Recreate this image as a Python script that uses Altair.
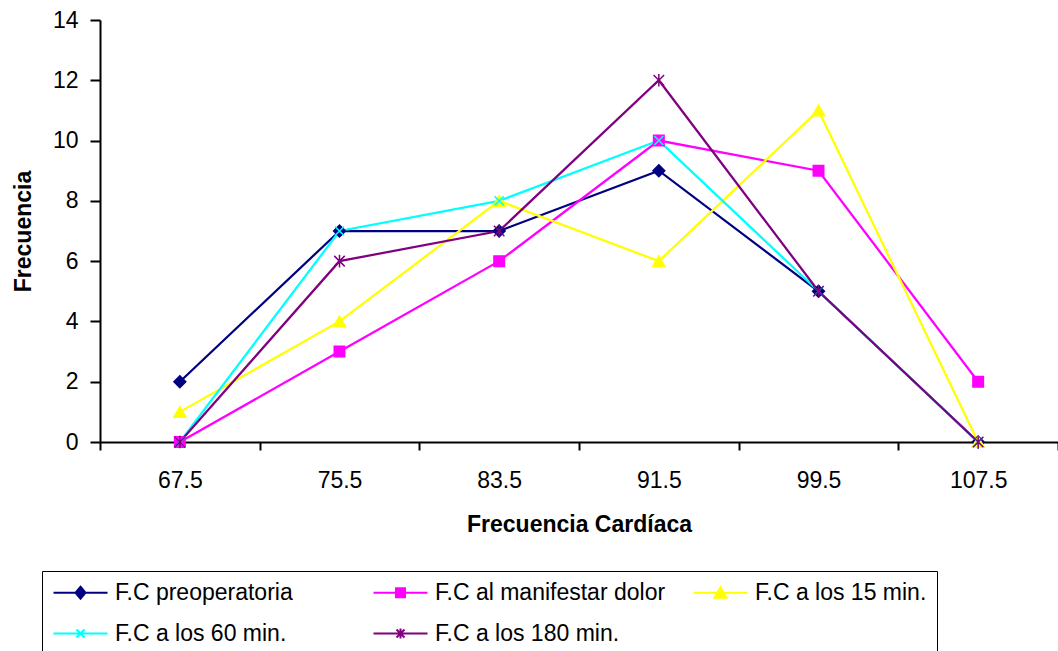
import altair as alt
import pandas as pd

# ---------------- data ----------------
categories = ["67.5", "75.5", "83.5", "91.5", "99.5", "107.5"]
series_names = [
    "F.C preoperatoria",
    "F.C al manifestar dolor",
    "F.C a los 15 min.",
    "F.C a los 60 min.",
    "F.C a los 180 min.",
]
preoperatoria = [2, 7, 7, 9, 5, 0]
manifestar_dolor = [0, 3, 6, 10, 9, 2]
a_los_15 = [1, 4, 8, 6, 11, 0]
a_los_60 = [0, 7, 8, 10, 5, 0]
a_los_180 = [0, 6, 7, 12, 5, 0]
y_ticks = [0, 2, 4, 6, 8, 10, 12, 14]

# ---------------- styles ----------------
colors = ["#000080", "#FF00FF", "#FFFF00", "#00FFFF", "#800080"]
marker_shapes = [
    "diamond",
    "square",
    "triangle-up",
    "M-1,-1L1,1M-1,1L1,-1",
    "M-1,-1L1,1M-1,1L1,-1M0,-1.2L0,1.2",
]
marker_sizes = [140, 110, 150, 81, 110]
legend_paths = [
    "M-1,0L4.4,0M1.7,-0.6L2.2,0L1.7,0.6L1.2,0Z",
    "M-1,0L4.4,0M1.25,-0.45L2.15,-0.45L2.15,0.45L1.25,0.45Z",
    "M-1,0L4.4,0M1.7,-0.55L2.3,0.5L1.1,0.5Z",
    "M-1,0L4.4,0M1.3,-0.4L2.1,0.4M1.3,0.4L2.1,-0.4",
    "M-1,0L4.4,0M1.3,-0.4L2.1,0.4M1.3,0.4L2.1,-0.4M1.7,-0.5L1.7,0.5",
]
FONT = "Liberation Sans"

series_values = [preoperatoria, manifestar_dolor, a_los_15, a_los_60, a_los_180]
rows = []
for name, vals in zip(series_names, series_values):
    for c, v in zip(categories, vals):
        rows.append({"cat": c, "value": v, "series": name})
df = pd.DataFrame(rows)

x_enc = alt.X(
    "cat:N",
    sort=categories,
    scale=alt.Scale(type="band", paddingInner=0, paddingOuter=0),
    axis=alt.Axis(
        title="Frecuencia Cardíaca",
        tickBand="extent",
        labelAngle=0,
        tickSize=8,
        labelPadding=19,
        titlePadding=21,
        grid=False,
    ),
)
y_enc = alt.Y(
    "value:Q",
    scale=alt.Scale(domain=[0, 14], nice=False),
    axis=alt.Axis(
        title="Frecuencia",
        values=y_ticks,
        tickSize=10,
        labelPadding=12,
        titlePadding=17,
        grid=False,
    ),
)

base = alt.Chart(df)

line_layers = []
point_layers = []
for name, col, shp, sz in zip(series_names, colors, marker_shapes, marker_sizes):
    sub = base.transform_filter(alt.datum.series == name)
    line_layers.append(sub.mark_line(strokeWidth=2.25, color=col).encode(x=x_enc, y=y_enc))
    point_layers.append(
        sub.mark_point(filled=True, opacity=1, strokeWidth=1.5, shape=shp, size=sz, fill=col, stroke=col)
        .encode(x=x_enc, y=y_enc)
    )

legend = alt.Legend(
    title=None,
    orient="none",
    legendX=-58,
    legendY=551,
    direction="horizontal",
    columns=3,
    gridAlign="all",
    columnPadding=23,
    rowPadding=17,
    padding=10,
    strokeColor="black",
    labelFont=FONT,
    labelFontSize=23,
    labelColor="black",
    labelOffset=40,
    labelLimit=500,
    symbolSize=400,
    symbolStrokeWidth=2,
    symbolOpacity=1,
)

legend_layer = (
    base.transform_filter("false")
    .mark_point(filled=True, opacity=1, strokeWidth=2)
    .encode(
        fill=alt.Fill("series:N", scale=alt.Scale(domain=series_names, range=colors), legend=legend),
        stroke=alt.Stroke("series:N", scale=alt.Scale(domain=series_names, range=colors), legend=legend),
        shape=alt.Shape("series:N", scale=alt.Scale(domain=series_names, range=legend_paths), legend=legend),
    )
)

chart = (
    alt.layer(*line_layers, *point_layers, legend_layer)
    .properties(
        width=958,
        height=422,
        autosize=alt.AutoSizeParams(type="none"),
        padding={"left": 100, "top": 20, "right": 0, "bottom": 209},
        background="white",
    )
    .configure_view(strokeWidth=0)
    .configure_axis(
        labelFont=FONT,
        labelFontSize=23,
        labelColor="black",
        titleFont=FONT,
        titleFontSize=23,
        titleFontWeight="bold",
        titleColor="black",
        domainColor="black",
        domainWidth=2,
        tickColor="black",
        tickWidth=2,
    )
)

chart.save("out.html", embed_options={"renderer": "svg", "actions": False})
